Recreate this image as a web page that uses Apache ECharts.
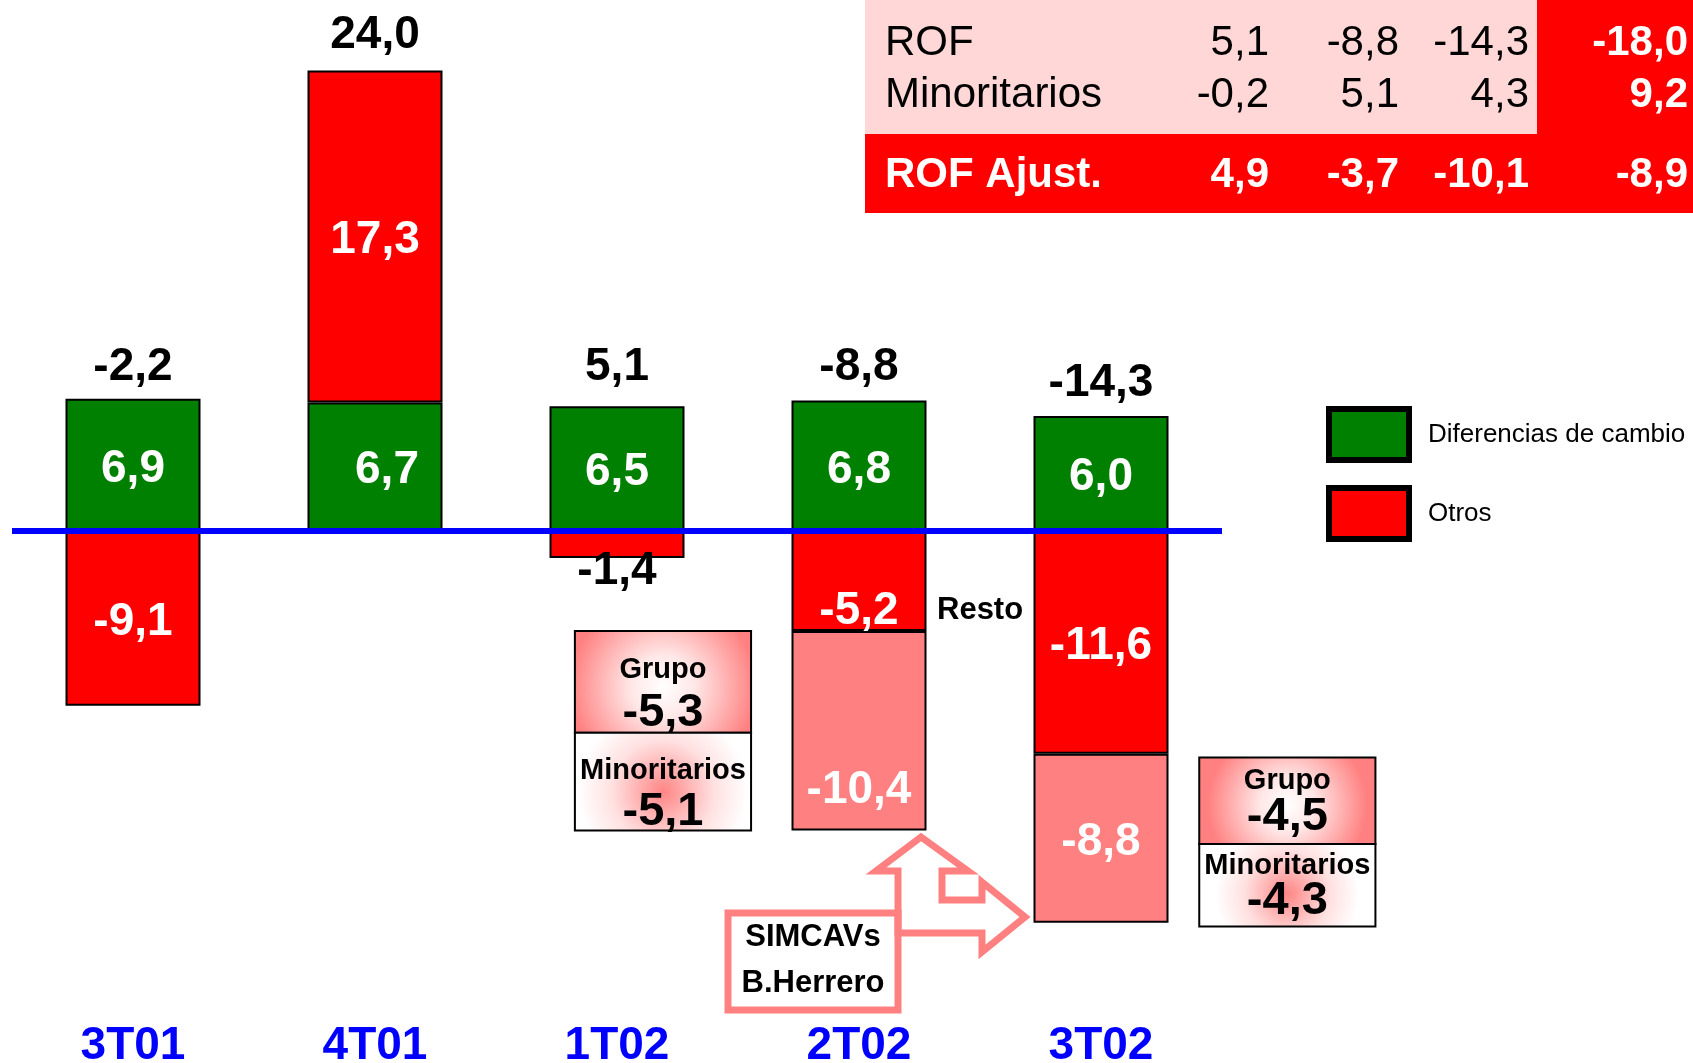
<!DOCTYPE html>
<html>
<head>
<meta charset="utf-8">
<title>ROF trimestral</title>
<script src="https://cdn.jsdelivr.net/npm/echarts@6/dist/echarts.min.js"></script>
<style>
  html, body { margin: 0; padding: 0; background: #fff; }
  #main { width: 1693px; height: 1063px; }
</style>
</head>
<body>
<div id="main"></div>
<script>
// datos del grafico
var categorias = ['3T01', '4T01', '1T02', '2T02', '3T02'];
var difCambio = [6.9, 6.7, 6.5, 6.8, 6.0];
var otros = [-9.1, 17.3, -1.4, -5.2, -11.6];
var simcavs = [null, null, null, -10.4, -8.8];
var totales = [-2.2, 24.0, 5.1, -8.8, -14.3];

// desglose Grupo / Minoritarios
var desgloseCat = ['1T02', '3T02'];
var desgloseInicio = [-5.2, -11.8];
var desgloseGrupo = [-5.3, -4.5];
var desgloseMinor = [-5.1, -4.3];

// tabla de arriba
var filasTabla = ['ROF', 'Minoritarios', 'ROF Ajust.'];
var tablaROF = [5.1, -8.8, -14.3, -18.0];
var tablaMinor = [-0.2, 5.1, 4.3, 9.2];
var tablaAjust = [4.9, -3.7, -10.1, -8.9];

var FUENTE = '"Liberation Sans", Arial, sans-serif';
var VERDE = '#008000', ROJO = '#FF0000', ROSA = '#FF8080';

function fmt(v) { return v.toFixed(1).replace('.', ','); }
function txt(s, x, y, font, color, align) {
  return {
    type: 'text', z: 20,
    style: { text: s, x: x, y: y, font: font, fill: color,
      align: align, verticalAlign: 'middle', textAlign: align, textVerticalAlign: 'middle' }
  };
}

var myChart = echarts.init(document.getElementById('main'));

// cima de la pila positiva, para colocar el total
var cimas = categorias.map(function (c, i) {
  return [i, difCambio[i] + Math.max(otros[i], 0)];
});
var ajusteTotal = [1, -3, -7, -1, -1];

// cajas de desglose (posicion relativa a la categoria)
var desplaz = [0.19, 0.77];
var bajarTexto = [7, -4];
function renderDesglose(params, api) {
  var i = params.dataIndex;
  var x = api.value(0), y0 = api.value(1), g = api.value(2), m = api.value(3);
  var band = api.size([1, 0])[0];
  var pTop = api.coord([x, y0]);
  var pMid = api.coord([x, y0 + g]);
  var pBot = api.coord([x, y0 + g + m]);
  var w = band * 0.728;
  var cx = pTop[0] + desplaz[i] * band;
  var left = cx - w / 2;
  var h1 = pMid[1] - pTop[1], h2 = pBot[1] - pMid[1];
  var d = bajarTexto[i];
  var fondo1 = new echarts.graphic.RadialGradient(0.5, 0.55, 0.9, [
    { offset: 0, color: '#ffffff' }, { offset: 0.35, color: '#ffe6e6' }, { offset: 1, color: ROSA }]);
  var fondo2 = new echarts.graphic.RadialGradient(0.5, 0.6, 0.85, [
    { offset: 0, color: '#ff8585' }, { offset: 0.6, color: '#ffe0e0' }, { offset: 1, color: '#ffffff' }]);
  var b = 'bold ';
  return {
    type: 'group',
    children: [
      { type: 'rect', shape: { x: left, y: pTop[1], width: w, height: h1 },
        style: { fill: fondo1, stroke: '#000', lineWidth: 2 } },
      { type: 'rect', shape: { x: left, y: pMid[1], width: w, height: h2 },
        style: { fill: fondo2, stroke: '#000', lineWidth: 2 } },
      txt('Grupo', cx, pTop[1] + h1 * 0.32 + d, b + '29px ' + FUENTE, '#000', 'center'),
      txt(fmt(g), cx, pTop[1] + h1 * 0.74 + d, b + '47px ' + FUENTE, '#000', 'center'),
      txt('Minoritarios', cx, pMid[1] + h2 * 0.32 + d, b + '29px ' + FUENTE, '#000', 'center'),
      txt(fmt(m), cx, pMid[1] + h2 * 0.74 + d, b + '47px ' + FUENTE, '#000', 'center')
    ]
  };
}

// tabla
var colDer = [1269, 1399, 1529, 1688];
var filaY = [43, 95, 175];
var grafTabla = [
  { type: 'rect', shape: { x: 865, y: 0, width: 672, height: 134 }, style: { fill: '#FFD7D7' } },
  { type: 'rect', shape: { x: 1537, y: 0, width: 156, height: 134 }, style: { fill: ROJO } },
  { type: 'rect', shape: { x: 865, y: 134, width: 828, height: 79 }, style: { fill: ROJO } }
];
[tablaROF, tablaMinor, tablaAjust].forEach(function (fila, r) {
  var negrita = r === 2;
  grafTabla.push(txt(filasTabla[r], 885, filaY[r], (negrita ? 'bold ' : '') + '42px ' + FUENTE,
    negrita ? '#fff' : '#000', 'left'));
  fila.forEach(function (v, c) {
    var enRojo = negrita || c === 3;
    grafTabla.push(txt(fmt(v), colDer[c], filaY[r], (enRojo ? 'bold ' : '') + '42px ' + FUENTE,
      enRojo ? '#fff' : '#000', 'right'));
  });
});

// caja SIMCAVs y flecha
var grafNotas = [
  { type: 'rect', z: 15, shape: { x: 728, y: 913, width: 170, height: 97 },
    style: { fill: '#fff', stroke: ROSA, lineWidth: 7 } },
  { type: 'polygon', z: 15,
    shape: { points: [[921, 837], [968, 871], [942, 871], [942, 900], [982, 900], [982, 882],
      [1025, 917], [982, 952], [982, 933], [898, 933], [898, 871], [876, 871]] },
    style: { fill: 'rgba(0,0,0,0)', stroke: ROSA, lineWidth: 7, lineJoin: 'miter' } },
  txt('SIMCAVs', 813, 937, 'bold 31px ' + FUENTE, '#000', 'center'),
  txt('B.Herrero', 813, 983, 'bold 31px ' + FUENTE, '#000', 'center'),
  txt('Resto', 937, 610, 'bold 31px ' + FUENTE, '#000', 'left')
];

var etiqueta = { show: true, position: 'inside', offset: [0, 4], color: '#fff', fontWeight: 'bold',
  fontSize: 46, fontFamily: FUENTE, formatter: function (p) { return fmt(p.value); } };
var borde = { borderColor: '#000', borderWidth: 2 };

var option = {
  animation: false,
  textStyle: { fontFamily: FUENTE },
  grid: { left: 12, right: 471, top: 32, bottom: 52, outerBoundsMode: 'none', containLabel: false },
  legend: {
    data: ['Diferencias de cambio', 'Otros'],
    orient: 'vertical', left: 1326, top: 406, padding: 0,
    icon: 'rect', itemWidth: 80, itemHeight: 51, itemGap: 22,
    itemStyle: { borderColor: '#000', borderWidth: 6 },
    textStyle: { fontSize: 26, color: '#000', fontFamily: FUENTE, padding: [6, 0, 0, 14] }
  },
  xAxis: {
    type: 'category', data: categorias,
    axisLine: { show: false, onZero: false }, axisTick: { show: false },
    axisLabel: { color: '#0000FF', fontWeight: 'bold', fontSize: 46, fontFamily: FUENTE, margin: 12 }
  },
  yAxis: { type: 'value', min: -25, max: 26, show: false, splitLine: { show: false } },
  series: [
    { name: 'Diferencias de cambio', type: 'bar', stack: 'rof', barWidth: 135,
      itemStyle: Object.assign({ color: VERDE }, borde), label: etiqueta,
      data: difCambio.map(function (v, i) { return i === 1 ? { value: v, label: { offset: [12, 4] } } : v; }),
      markLine: { silent: true, symbol: 'none', z: 10, label: { show: false },
        lineStyle: { color: '#0000FF', width: 6, type: 'solid' }, data: [{ yAxis: 0 }] } },
    { name: 'Otros', type: 'bar', stack: 'rof', barWidth: 135,
      itemStyle: Object.assign({ color: ROJO }, borde), label: etiqueta,
      data: otros.map(function (v, i) {
        if (i === 2) return { value: v, label: { color: '#000', offset: [0, 27] } };
        if (i === 3) return { value: v, label: { position: 'insideBottom', distance: 1, offset: [0, 4] } };
        return v;
      }) },
    { name: 'SIMCAVs', type: 'bar', stack: 'rof', barWidth: 135,
      itemStyle: Object.assign({ color: ROSA }, borde), label: etiqueta,
      data: simcavs.map(function (v, i) {
        return i === 3 ? { value: v, label: { position: 'insideBottom', distance: 18, offset: [0, 1] } } : v;
      }) },
    { name: 'Total', type: 'scatter', symbolSize: 0, itemStyle: { color: '#000', opacity: 1 },
      z: 5,
      data: cimas.map(function (p, i) { return { value: p, label: { offset: [0, ajusteTotal[i]] } }; }),
      label: { show: true, position: 'top', distance: 9, color: '#000', fontWeight: 'bold',
        fontSize: 46, fontFamily: FUENTE, formatter: function (p) { return fmt(totales[p.dataIndex]); } } },
    { name: 'Desglose', type: 'custom', renderItem: renderDesglose, clip: false, z: 6,
      encode: { x: 0, y: 1 },
      data: desgloseCat.map(function (c, i) {
        return [categorias.indexOf(c), desgloseInicio[i], desgloseGrupo[i], desgloseMinor[i]];
      }) }
  ],
  graphic: grafTabla.concat(grafNotas)
};

myChart.setOption(option);
</script>
</body>
</html>
